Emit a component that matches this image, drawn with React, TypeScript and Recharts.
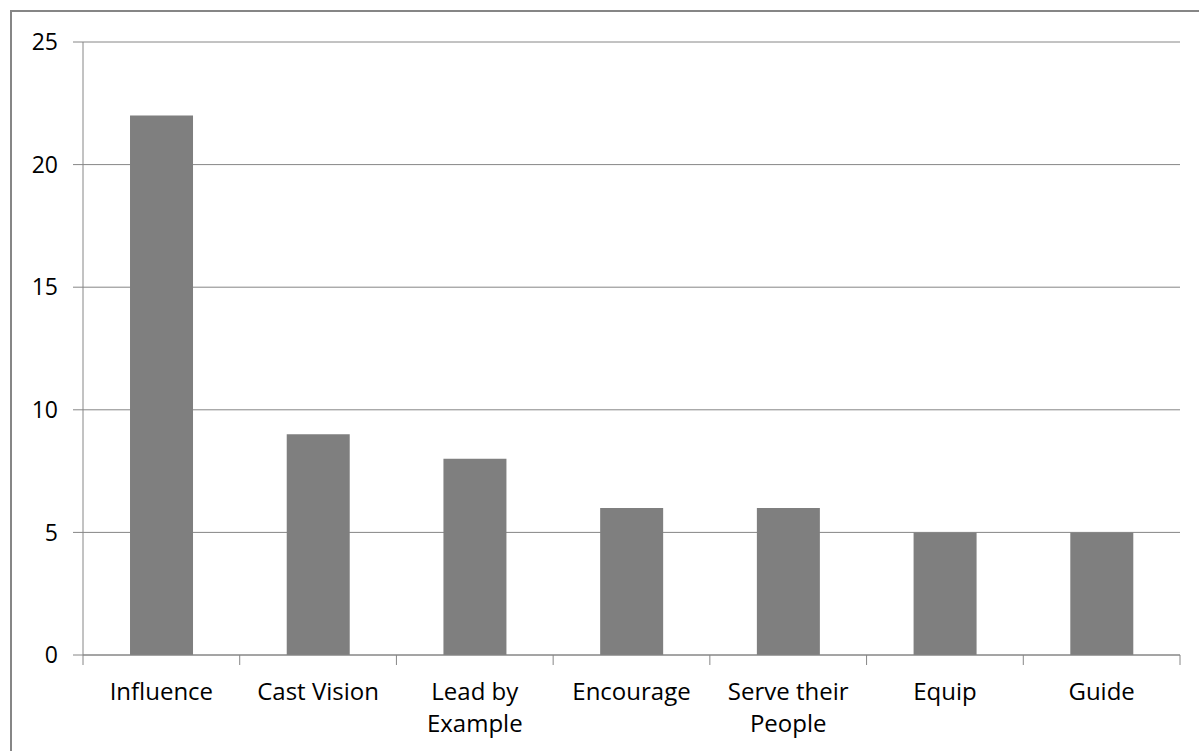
import { BarChart, Bar, XAxis, YAxis, CartesianGrid } from 'recharts'

const categories = [
  'Influence',
  'Cast Vision',
  'Lead by Example',
  'Encourage',
  'Serve their People',
  'Equip',
  'Guide',
]
const counts = [22, 9, 8, 6, 6, 5, 5]
const yTicks = [0, 5, 10, 15, 20, 25]

const data = categories.map((name, i) => ({ name, count: counts[i] }))

const W = 1199
const H = 751
const MARGIN = { top: 42, right: 19, bottom: 16, left: 0 }
const Y_AXIS_W = 83
const X_AXIS_H = 80
const BAND = (W - MARGIN.left - MARGIN.right - Y_AXIS_W) / categories.length

const LINE = '#868686'
const BAR = '#7f7f7f'
const FONT = "'Open Sans', 'Liberation Sans', sans-serif"
const LABEL_SIZE = 24

let ctx: CanvasRenderingContext2D | null = null
function measure(s: string) {
  if (!ctx) ctx = document.createElement('canvas').getContext('2d')
  if (!ctx) return s.length * LABEL_SIZE * 0.55
  ctx.font = `${LABEL_SIZE}px ${FONT}`
  return ctx.measureText(s).width
}

// greedy word wrap, like the category labels in the original
function wrap(label: string, maxW: number) {
  const lines: string[] = []
  let cur = ''
  for (const w of label.split(' ')) {
    const next = cur ? `${cur} ${w}` : w
    if (cur && measure(next) > maxW) {
      lines.push(cur)
      cur = w
    } else cur = next
  }
  if (cur) lines.push(cur)
  return lines
}

const XTick = (props: any) => {
  const { x, y, payload, index } = props
  const half = BAND / 2
  const lines = wrap(String(payload.value), 140)
  return (
    <g>
      <line x1={x - half} x2={x - half} y1={y} y2={y + 10} stroke={LINE} />
      {index === categories.length - 1 && (
        <line x1={x + half} x2={x + half} y1={y} y2={y + 10} stroke={LINE} />
      )}
      <text
        x={x}
        y={y + 45}
        textAnchor="middle"
        fontSize={LABEL_SIZE}
        fontFamily={FONT}
        fill="#000"
      >
        {lines.map((l, i) => (
          <tspan key={i} x={x} dy={i === 0 ? 0 : 32}>
            {l}
          </tspan>
        ))}
      </text>
    </g>
  )
}

export default function App() {
  return (
    <div
      style={{
        position: 'absolute',
        left: 0,
        top: 0,
        width: W,
        height: H,
        overflow: 'hidden',
        background: '#fff',
      }}
    >
      <div
        style={{
          position: 'absolute',
          left: 10,
          top: 10,
          width: 1400,
          height: 1000,
          border: `2px solid ${LINE}`,
        }}
      />
      <div style={{ position: 'absolute', left: 0, top: 0 }}>
        <BarChart
          width={W}
          height={H}
          data={data}
          margin={MARGIN}
          barCategoryGap="30%"
          style={{ fontFamily: FONT }}
        >
          <CartesianGrid vertical={false} stroke={LINE} />
          <XAxis
            dataKey="name"
            height={X_AXIS_H}
            interval={0}
            tickLine={false}
            tickSize={0}
            tickMargin={0}
            axisLine={{ stroke: LINE }}
            tick={<XTick />}
          />
          <YAxis
            width={Y_AXIS_W}
            domain={[0, 25]}
            ticks={yTicks}
            interval={0}
            tickSize={10}
            tickMargin={15}
            axisLine={{ stroke: LINE }}
            tickLine={{ stroke: LINE }}
            tick={{ fontSize: 23, fill: '#000', fontFamily: FONT }}
          />
          <Bar dataKey="count" fill={BAR} isAnimationActive={false} />
        </BarChart>
      </div>
    </div>
  )
}
